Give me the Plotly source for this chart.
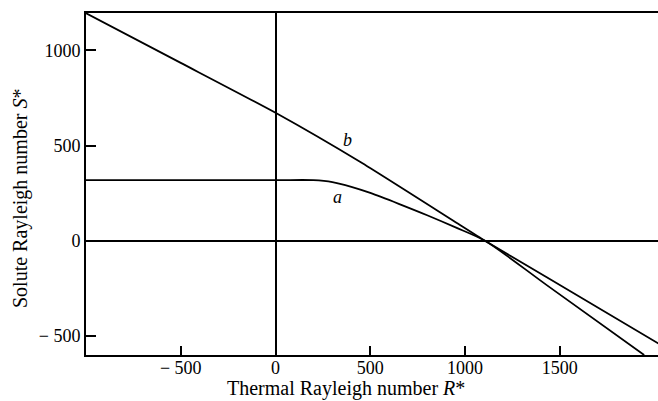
import plotly.graph_objects as go

# Curve a
a_R = [-1000, 0, 200, 300, 400, 500, 650, 800, 950, 1105, 1431, 1945]
a_S = [318, 318, 318, 308, 283, 251, 194, 134, 70, 0, -233, -600]

# Curve b
b_R = [-1000, -500, 0, 450, 946, 1105, 1431, 2030]
b_S = [1195, 934, 672, 412, 100, 0, -192, -545]

x_ticks = [-500, 0, 500, 1000, 1500]
x_ticktext = ["\u2212 500", "0", "500", "1000", "1500"]
y_ticks = [-500, 0, 500, 1000]
y_ticktext = ["\u2212 500", "0", "500", "1000"]

labels = ["a", "b"]
label_R = [329, 378]
label_S = [229, 529]

FONT = "Liberation Serif"

fig = go.Figure()
fig.add_trace(go.Scatter(x=a_R, y=a_S, mode="lines",
                         line=dict(color="black", width=1.8, shape="spline", smoothing=0.8),
                         showlegend=False, hoverinfo="skip"))
fig.add_trace(go.Scatter(x=b_R, y=b_S, mode="lines",
                         line=dict(color="black", width=1.8, shape="spline", smoothing=0.5),
                         showlegend=False, hoverinfo="skip"))

for t, xr, ys in zip(labels, label_R, label_S):
    fig.add_annotation(x=xr, y=ys, text=f"<i>{t}</i>", showarrow=False,
                       font=dict(family=FONT, size=18, color="black"))

# Axis titles
fig.add_annotation(xref="paper", yref="paper", x=(346 - 86) / 572, y=(355 - 388) / 342,
                   text="Thermal Rayleigh number <i>R</i>*", showarrow=False,
                   xanchor="center", yanchor="middle",
                   font=dict(family=FONT, size=20, color="black"))
fig.add_annotation(xref="paper", yref="paper", x=(20 - 86) / 572, y=(355 - 199) / 342,
                   text="Solute Rayleigh number <i>S</i>*", showarrow=False, textangle=-90,
                   xanchor="center", yanchor="middle",
                   font=dict(family=FONT, size=20, color="black"))

fig.update_layout(
    width=658, height=401,
    margin=dict(l=86, r=0, t=13, b=46),
    paper_bgcolor="white", plot_bgcolor="white",
    font=dict(family=FONT, size=18, color="black"),
    xaxis=dict(range=[-1000, 2018], tickvals=x_ticks, ticktext=x_ticktext,
               ticks="inside", ticklen=9, tickwidth=1.5, tickcolor="black",
               showline=True, linecolor="black", linewidth=2, mirror=True,
               showgrid=False, zeroline=True, zerolinecolor="black", zerolinewidth=1.8,
               ticklabelstandoff=-5),
    yaxis=dict(range=[-600, 1196], tickvals=y_ticks, ticktext=y_ticktext,
               ticks="inside", ticklen=10, tickwidth=1.5, tickcolor="black",
               showline=True, linecolor="black", linewidth=2,
               showgrid=False, zeroline=True, zerolinecolor="black", zerolinewidth=1.8,
               ticklabelstandoff=0),
)

fig.write_html("out.html")
